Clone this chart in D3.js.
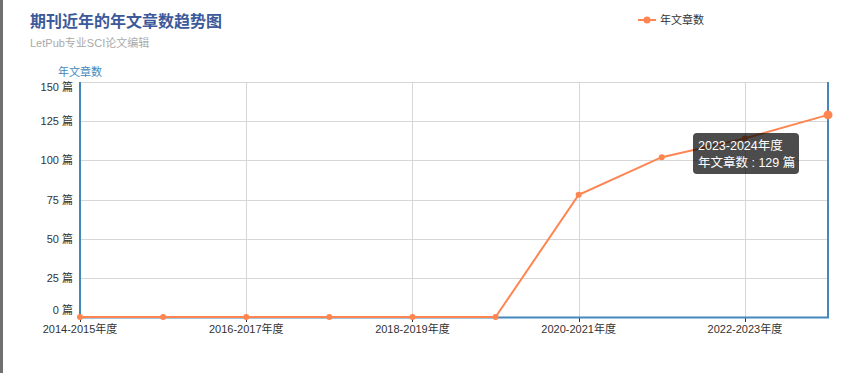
<!DOCTYPE html>
<html>
<head>
<meta charset="utf-8" />
<title>期刊近年的年文章数趋势图</title>
<script src="https://d3js.org/d3.v7.min.js"></script>
<style>
body { margin: 0; background: #fff; }
svg text { font-family: "Liberation Sans", Arial, "Noto Sans CJK SC", sans-serif; }
</style>
</head>
<body>
<script>
var width = 852, height = 373;

// data
var years = ["2014-2015年度", "2015-2016年度", "2016-2017年度", "2017-2018年度", "2018-2019年度",
             "2019-2020年度", "2020-2021年度", "2021-2022年度", "2022-2023年度", "2023-2024年度"];
var counts = [0, 0, 0, 0, 0, 0, 78, 102, 114, 129];
var yTicks = [0, 25, 50, 75, 100, 125, 150];
var seriesName = "年文章数";

var svg = d3.select("body").append("svg")
  .attr("width", width)
  .attr("height", height);

// grey strip on the left edge of the screenshot
svg.append("rect").attr("x", 0).attr("y", 0).attr("width", 3).attr("height", height).attr("fill", "#707070");

var x = d3.scalePoint().domain(years).range([80, 828]);
var y = d3.scaleLinear().domain([0, 150]).range([317, 82]);

var axisBlue = "#4488bb";
var coral = "#ff8550";

// title
svg.append("text").attr("x", 30).attr("y", 27)
  .attr("font-size", 16).attr("font-weight", "bold").attr("fill", "#3c5a9a")
  .text("期刊近年的年文章数趋势图");
svg.append("text").attr("x", 30).attr("y", 47)
  .attr("font-size", 11).attr("fill", "#aaa")
  .text("LetPub专业SCI论文编辑");

// legend
var lg = svg.append("g").attr("transform", "translate(638,20)");
lg.append("line").attr("x1", 0).attr("x2", 18).attr("y1", 0).attr("y2", 0)
  .attr("stroke", coral).attr("stroke-width", 2);
lg.append("circle").attr("cx", 9).attr("cy", 0).attr("r", 3.5).attr("fill", coral);
lg.append("text").attr("x", 22).attr("y", 4).attr("font-size", 11).attr("fill", "#333").text(seriesName);

// y axis name
svg.append("text").attr("x", 58).attr("y", 76)
  .attr("font-size", 11).attr("fill", axisBlue).text(seriesName);

// horizontal grid
svg.append("g").selectAll("line").data(yTicks).enter().append("line")
  .attr("x1", 80).attr("x2", 828)
  .attr("y1", function(d) { return Math.round(y(d)) + 0.5; })
  .attr("y2", function(d) { return Math.round(y(d)) + 0.5; })
  .attr("stroke", "#d6d6d6");

// vertical grid at labelled categories
var labelled = years.filter(function(d, i) { return i % 2 === 0; });
svg.append("g").selectAll("line").data(labelled.slice(1)).enter().append("line")
  .attr("x1", function(d) { return Math.round(x(d)) + 0.5; })
  .attr("x2", function(d) { return Math.round(x(d)) + 0.5; })
  .attr("y1", 82).attr("y2", 317)
  .attr("stroke", "#d6d6d6");

// y tick labels
svg.append("g").selectAll("text").data(yTicks).enter().append("text")
  .attr("x", 73)
  .attr("y", function(d) {
    var off = d === 150 ? 5 : (d === 0 ? -7 : 0);
    return y(d) + off + 4;
  })
  .attr("text-anchor", "end").attr("font-size", 11).attr("fill", "#333")
  .text(function(d) { return d + " 篇"; });

// x axis ticks + labels
var xa = svg.append("g");
xa.selectAll("line").data(labelled).enter().append("line")
  .attr("x1", function(d) { return Math.round(x(d)) + 0.5; })
  .attr("x2", function(d) { return Math.round(x(d)) + 0.5; })
  .attr("y1", 317).attr("y2", 322)
  .attr("stroke", "#333");
xa.selectAll("text").data(labelled).enter().append("text")
  .attr("x", function(d) { return x(d); }).attr("y", 333)
  .attr("text-anchor", "middle").attr("font-size", 11).attr("fill", "#333")
  .text(function(d) { return d; });

// axis lines
svg.append("line").attr("x1", 80).attr("x2", 80).attr("y1", 82).attr("y2", 318)
  .attr("stroke", axisBlue).attr("stroke-width", 2);
svg.append("line").attr("x1", 828).attr("x2", 828).attr("y1", 82).attr("y2", 318)
  .attr("stroke", axisBlue).attr("stroke-width", 2);
svg.append("line").attr("x1", 79).attr("x2", 829).attr("y1", 317.5).attr("y2", 317.5)
  .attr("stroke", axisBlue).attr("stroke-width", 2);

// series line
var line = d3.line()
  .x(function(d, i) { return x(years[i]); })
  .y(function(d) { return y(d); });
svg.append("path").datum(counts)
  .attr("d", line).attr("fill", "none")
  .attr("stroke", coral).attr("stroke-width", 2);
svg.append("g").selectAll("circle").data(counts).enter().append("circle")
  .attr("cx", function(d, i) { return x(years[i]); })
  .attr("cy", function(d) { return y(d); })
  .attr("r", function(d, i) { return i === counts.length - 1 ? 4.5 : 3; })
  .attr("fill", coral);

// tooltip for the last point
var last = counts.length - 1;
var tip = svg.append("g").attr("transform", "translate(693,133)");
tip.append("rect").attr("width", 106).attr("height", 41).attr("rx", 4)
  .attr("fill", "rgba(0,0,0,0.7)");
tip.append("text").attr("x", 5).attr("y", 17).attr("font-size", 12.5).attr("fill", "#fff")
  .text(years[last]);
tip.append("text").attr("x", 5).attr("y", 34).attr("font-size", 12.5).attr("fill", "#fff")
  .text(seriesName + " : " + counts[last] + " 篇");
</script>
</body>
</html>
